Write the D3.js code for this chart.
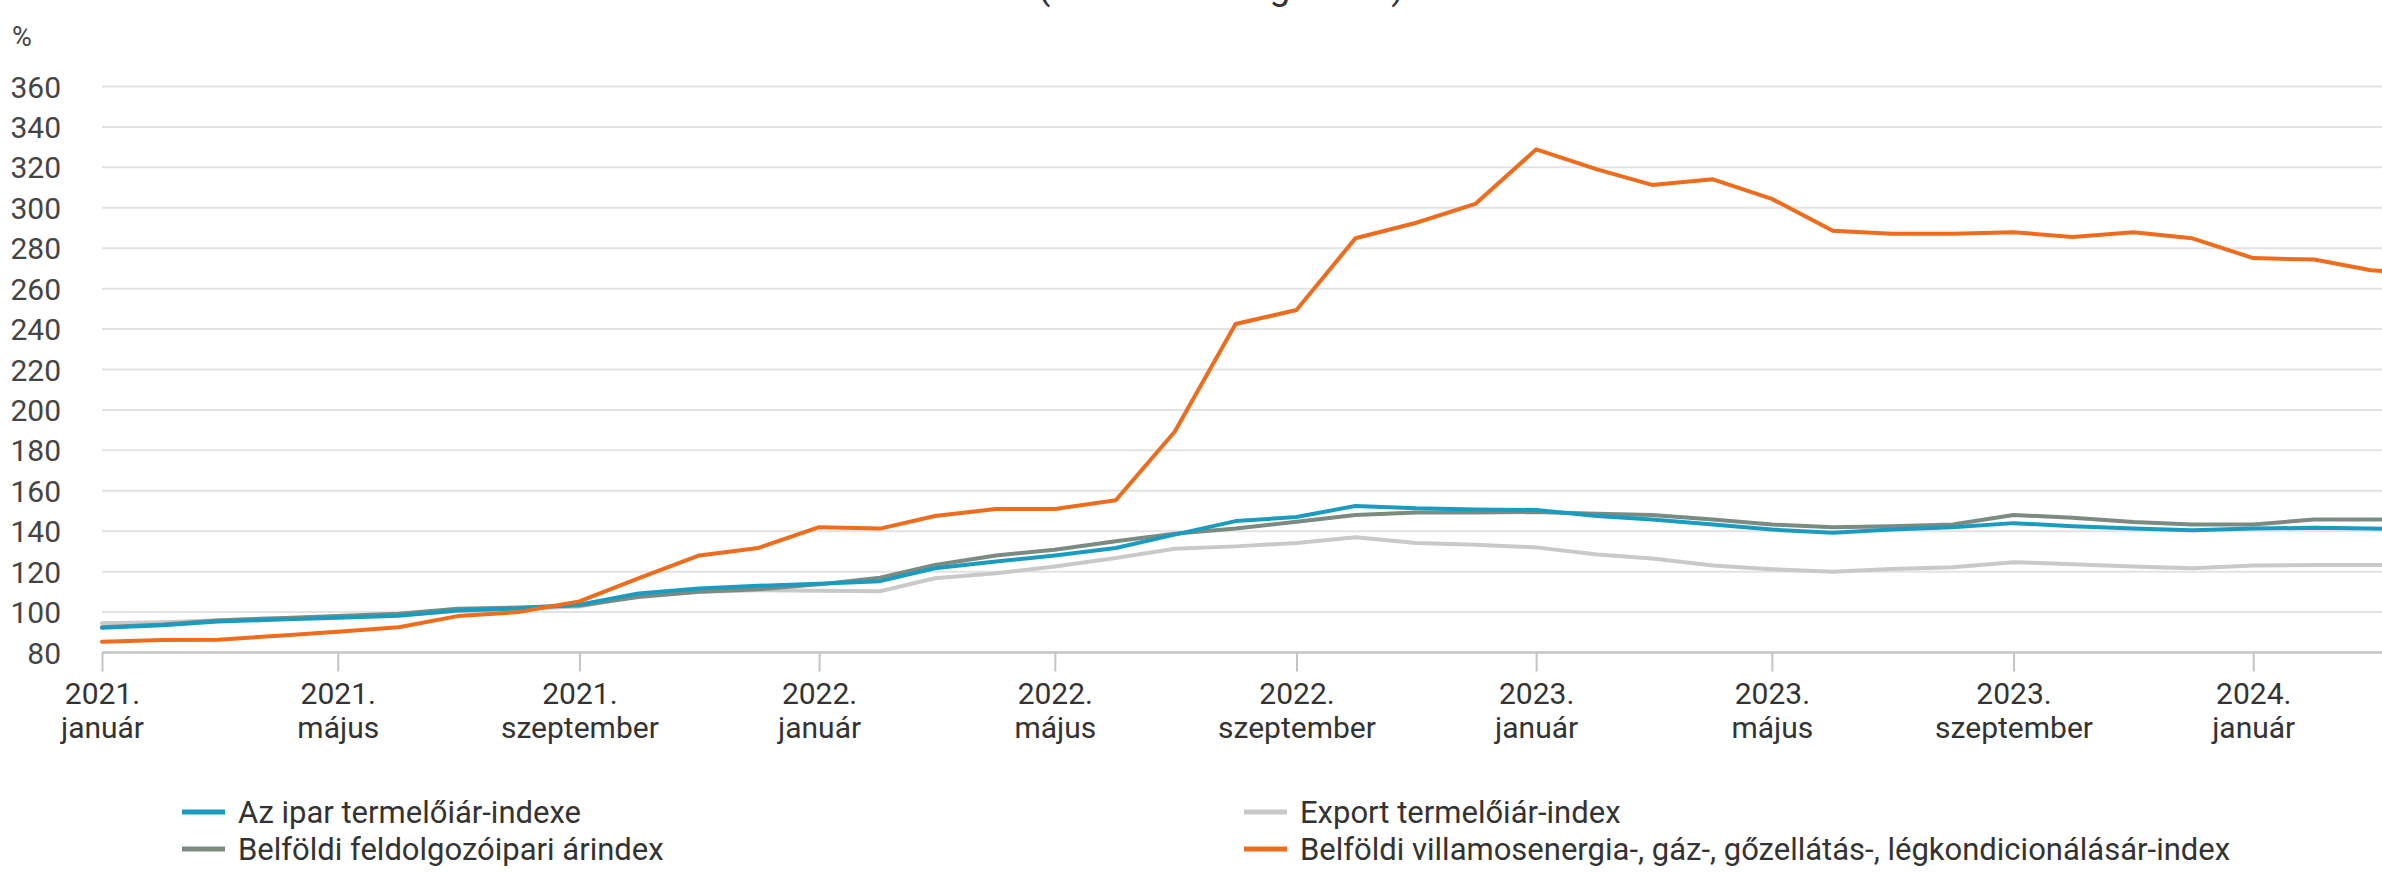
<!DOCTYPE html>
<html lang="hu">
<head>
<meta charset="utf-8">
<script src="https://cdn.jsdelivr.net/npm/d3@7"></script>
<style>
  html, body { margin: 0; padding: 0; background: #fff; overflow: hidden; }
  svg { display: block; font-family: Roboto, "Noto Sans", sans-serif; }
</style>
</head>
<body>
<svg id="chart" width="2382" height="873"></svg>
<script>
// Monthly observations, 2021. január – 2024. április
const months = [
  "2021-01","2021-02","2021-03","2021-04","2021-05","2021-06","2021-07","2021-08","2021-09","2021-10","2021-11","2021-12",
  "2022-01","2022-02","2022-03","2022-04","2022-05","2022-06","2022-07","2022-08","2022-09","2022-10","2022-11","2022-12",
  "2023-01","2023-02","2023-03","2023-04","2023-05","2023-06","2023-07","2023-08","2023-09","2023-10","2023-11","2023-12",
  "2024-01","2024-02","2024-03","2024-04"
];

// Az ipar termelőiár-indexe
const iparIndex = [
  92.3, 93.5, 95.3, 96.3, 97.2, 98.2, 100.8, 101.8, 103.7, 109.2, 111.7, 113.0,
  114.0, 115.3, 121.7, 125.0, 128.0, 131.7, 138.3, 145.0, 147.0, 152.5, 151.3, 150.8,
  150.5, 147.5, 145.8, 143.3, 140.8, 139.2, 140.8, 142.0, 144.0, 142.5, 141.3, 140.5,
  141.3, 141.7, 141.3, 140.8
];

// Belföldi feldolgozóipari árindex
const feldolgozoIndex = [
  92.5, 93.8, 95.8, 97.0, 98.0, 99.2, 101.7, 102.2, 103.3, 107.5, 110.0, 111.3,
  113.7, 117.0, 123.3, 128.0, 130.8, 135.0, 138.7, 141.3, 144.7, 148.0, 149.2, 149.2,
  149.5, 148.7, 148.0, 145.8, 143.3, 142.0, 142.5, 143.3, 148.0, 146.7, 144.5, 143.3,
  143.3, 145.8, 145.8, 146.0
];

// Export termelőiár-index
const exportIndex = [
  94.5, 95.0, 96.0, 97.0, 97.5, 98.5, 100.5, 101.5, 102.8, 108.0, 110.0, 110.8,
  110.5, 110.3, 116.7, 119.2, 122.5, 126.7, 131.3, 132.5, 134.2, 137.0, 134.2, 133.3,
  132.0, 128.5, 126.5, 123.0, 121.2, 120.0, 121.3, 122.2, 124.7, 123.7, 122.5, 121.7,
  123.0, 123.3, 123.3, 123.3
];

// Belföldi villamosenergia-, gáz-, gőzellátás-, légkondicionálásár-index
const energiaIndex = [
  85.3, 86.2, 86.3, 88.3, 90.3, 92.5, 98.0, 100.0, 105.3, 116.7, 128.0, 131.7,
  142.0, 141.3, 147.5, 151.0, 151.0, 155.3, 189.2, 242.5, 249.4, 284.9, 292.6, 301.9,
  328.9, 319.0, 311.3, 314.1, 304.4, 288.6, 287.1, 287.1, 287.9, 285.6, 287.9, 284.9,
  275.1, 274.4, 269.1, 267.0
];

const yTicks = [80, 100, 120, 140, 160, 180, 200, 220, 240, 260, 280, 300, 320, 340, 360];

const xTickMonths = ["2021-01","2021-05","2021-09","2022-01","2022-05","2022-09","2023-01","2023-05","2023-09","2024-01"];
const xTickYears  = ["2021.","2021.","2021.","2022.","2022.","2022.","2023.","2023.","2023.","2024."];
const xTickNames  = ["január","május","szeptember","január","május","szeptember","január","május","szeptember","január"];

const seriesNames = [
  "Az ipar termelőiár-indexe",
  "Export termelőiár-index",
  "Belföldi feldolgozóipari árindex",
  "Belföldi villamosenergia-, gáz-, gőzellátás-, légkondicionálásár-index"
];

const subtitle = "(2021. évi átlag = 100)";

const parseMonth = d3.utcParse("%Y-%m");
const dates = months.map(parseMonth);

const series = [
  { name: seriesNames[1], values: exportIndex,     color: "#c9c9c9" },
  { name: seriesNames[2], values: feldolgozoIndex, color: "#7b8b82" },
  { name: seriesNames[0], values: iparIndex,       color: "#1a9cc0" },
  { name: seriesNames[3], values: energiaIndex,    color: "#ee6c1c" }
];
const colorOf = Object.fromEntries(series.map(s => [s.name, s.color]));

const svg = d3.select("#chart");

const x = d3.scaleUtc()
  .domain([dates[0], dates[dates.length - 1]])
  .range([102, 2432]);

const y = d3.scaleLinear()
  .domain([80, 360])
  .range([652.5, 86.5]);

// subtitle (only the lower edge of it lies inside the frame)
svg.append("text")
  .attr("x", 1221).attr("y", -1)
  .attr("text-anchor", "middle")
  .attr("font-size", 37)
  .attr("fill", "#333")
  .text(subtitle);

// unit label
svg.append("text")
  .attr("x", 12).attr("y", 46)
  .attr("font-size", 27)
  .attr("fill", "#444")
  .text("%");

// horizontal grid
const yAxis = d3.axisLeft(y)
  .tickValues(yTicks)
  .tickSize(0)
  .tickPadding(0)
  .tickFormat(d3.format("d"));

const gy = svg.append("g").attr("transform", "translate(0,0)").call(yAxis);
gy.select(".domain").remove();
gy.selectAll(".tick text")
  .attr("x", 61)
  .attr("dy", "0.35em")
  .attr("text-anchor", "end")
  .attr("font-size", 30)
  .attr("font-family", "Roboto, sans-serif")
  .attr("fill", "#444");
gy.selectAll(".tick line").remove();

svg.append("g")
  .selectAll("line")
  .data(yTicks.filter(v => v > 80))
  .join("line")
  .attr("x1", 102).attr("x2", 2432)
  .attr("y1", d => y(d)).attr("y2", d => y(d))
  .attr("stroke", "#e3e3e3")
  .attr("stroke-width", 2);

// x axis
const xTickDates = xTickMonths.map(parseMonth);
const xAxis = d3.axisBottom(x)
  .tickValues(xTickDates)
  .tickSize(19)
  .tickFormat("");

const gx = svg.append("g")
  .attr("transform", `translate(0,${y(80)})`)
  .call(xAxis);
gx.select(".domain")
  .attr("d", `M102,0H2432`)
  .attr("stroke", "#c4c4c4")
  .attr("stroke-width", 2.5);
gx.selectAll(".tick line")
  .attr("stroke", "#c4c4c4")
  .attr("stroke-width", 2);

const lab = gx.selectAll(".tick").select("text")
  .attr("y", 0).attr("dy", null)
  .attr("font-size", 30)
  .attr("font-family", "Roboto, sans-serif")
  .attr("fill", "#333")
  .attr("text-anchor", "middle");
lab.each(function(d, i) {
  const t = d3.select(this);
  t.append("tspan").attr("x", 0).attr("y", 51).text(xTickYears[i]);
  t.append("tspan").attr("x", 0).attr("y", 85).text(xTickNames[i]);
});

// lines
const line = d3.line()
  .x((d, i) => x(dates[i]))
  .y(d => y(d));

svg.append("g")
  .selectAll("path")
  .data(series)
  .join("path")
  .attr("d", d => line(d.values))
  .attr("fill", "none")
  .attr("stroke", d => d.color)
  .attr("stroke-width", 4)
  .attr("stroke-linejoin", "round")
  .attr("stroke-linecap", "round");

// legend
const legendItems = [
  { name: seriesNames[0], x: 182, y: 812 },
  { name: seriesNames[2], x: 182, y: 849 },
  { name: seriesNames[1], x: 1244, y: 812 },
  { name: seriesNames[3], x: 1244, y: 849 }
];
const lg = svg.append("g").selectAll("g").data(legendItems).join("g")
  .attr("transform", d => `translate(${d.x},${d.y})`);
lg.append("rect")
  .attr("x", 0).attr("y", -2.5)
  .attr("width", 43).attr("height", 5)
  .attr("fill", d => colorOf[d.name]);
lg.append("text")
  .attr("x", 56).attr("y", 0).attr("dy", "0.35em")
  .attr("font-size", 31)
  .attr("fill", "#333")
  .text(d => d.name);
</script>
</body>
</html>
